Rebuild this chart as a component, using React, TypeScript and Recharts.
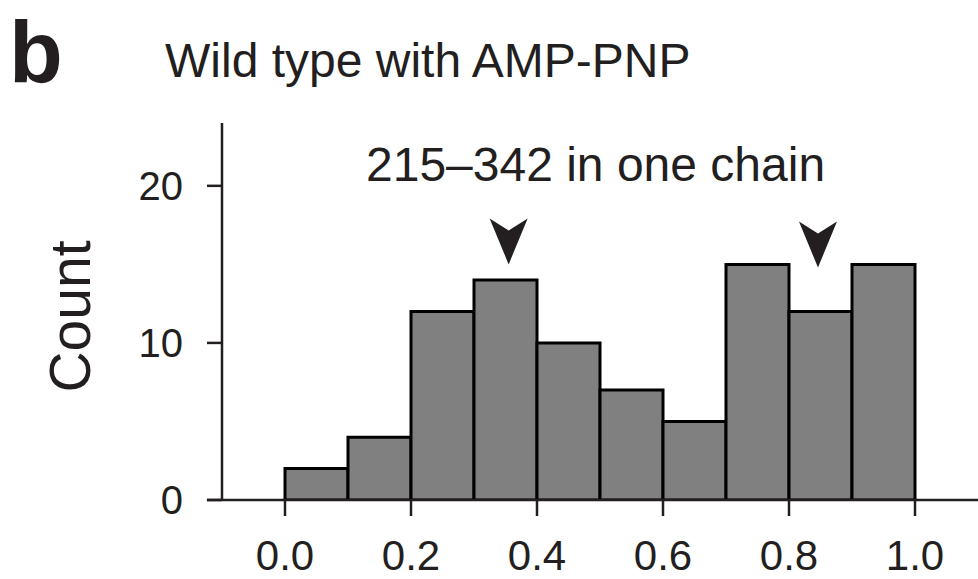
import {
  ComposedChart, Bar, XAxis, YAxis, ReferenceLine, ReferenceDot,
} from "recharts";

const INK = "#231f20";
const FONT = "'Liberation Sans', Arial, Helvetica, sans-serif";

// histogram bins (width 0.1) and their counts
const binLabels = ["0.0", "0.1", "0.2", "0.3", "0.4", "0.5", "0.6", "0.7", "0.8", "0.9"];
const counts = [2, 4, 12, 14, 10, 7, 5, 15, 12, 15];

const xTicks = [0, 0.2, 0.4, 0.6, 0.8, 1.0];
const yTicks = [0, 10, 20];

// arrowhead markers: x position and height of the tip
const arrowX = [0.355, 0.846];
const arrowY = [15, 14.8];

const bins = binLabels.map((bin, i) => ({ bin, count: counts[i] }));
const arrows = arrowX.map((x, i) => ({ x, y: arrowY[i] }));

function Arrowhead(props: any) {
  const { cx, cy } = props;
  return (
    <path
      d={`M${cx},${cy} L${cx - 19},${cy - 46} L${cx},${cy - 34} L${cx + 19},${cy - 46} Z`}
      fill={INK}
    />
  );
}

export default function App() {
  return (
    <div style={{ position: "absolute", left: 0, top: 0, width: 978, height: 579, fontFamily: FONT, color: INK }}>
      <div style={{ position: "absolute", left: 9, top: 8, fontSize: 88, fontWeight: 700, lineHeight: 1 }}>b</div>
      <div style={{ position: "absolute", left: 165, top: 37, fontSize: 48, lineHeight: 1, whiteSpace: "nowrap" }}>
        Wild type with AMP-PNP
      </div>
      <div style={{ position: "absolute", left: 366, top: 141, fontSize: 48, lineHeight: 1, whiteSpace: "nowrap", zIndex: 1 }}>
        215–342 in one chain
      </div>
      <div
        style={{
          position: "absolute", left: -30, top: 288, width: 200, height: 57,
          fontSize: 57, lineHeight: 1, textAlign: "center", transform: "rotate(-90deg)",
        }}
      >
        Count
      </div>

      <ComposedChart
        width={978}
        height={579}
        data={bins}
        margin={{ top: 123, right: 0, bottom: 0, left: 0 }}
        barCategoryGap={0}
        barGap={0}
      >
        <XAxis
          type="number"
          dataKey="x"
          domain={[-0.1, 1.1]}
          ticks={xTicks}
          tickFormatter={(v: number) => v.toFixed(1)}
          allowDataOverflow
          height={79}
          axisLine={false}
          tickSize={16}
          tickMargin={24}
          tickLine={{ stroke: INK, strokeWidth: 2.5 }}
          tick={{ fill: INK, fontSize: 42, fontFamily: FONT }}
        />
        <XAxis xAxisId="bins" dataKey="bin" type="category" hide padding={{ left: 63, right: 63 }} />
        <YAxis
          domain={[0, 24]}
          ticks={yTicks}
          allowDataOverflow
          width={222}
          tickSize={15}
          tickMargin={24}
          axisLine={{ stroke: INK, strokeWidth: 2.5 }}
          tickLine={{ stroke: INK, strokeWidth: 2.5 }}
          tick={{ fill: INK, fontSize: 40, fontFamily: FONT }}
        />
        <Bar
          xAxisId="bins"
          dataKey="count"
          fill="#808080"
          stroke="#000"
          strokeWidth={3}
          isAnimationActive={false}
        />
        <ReferenceLine
          segment={[{ x: -0.124, y: 0 }, { x: 1.1, y: 0 }]}
          stroke={INK}
          strokeWidth={2.5}
          ifOverflow="visible"
        />
        {arrows.map((a, i) => (
          <ReferenceDot key={i} x={a.x} y={a.y} r={1} shape={Arrowhead} />
        ))}
      </ComposedChart>
    </div>
  );
}
